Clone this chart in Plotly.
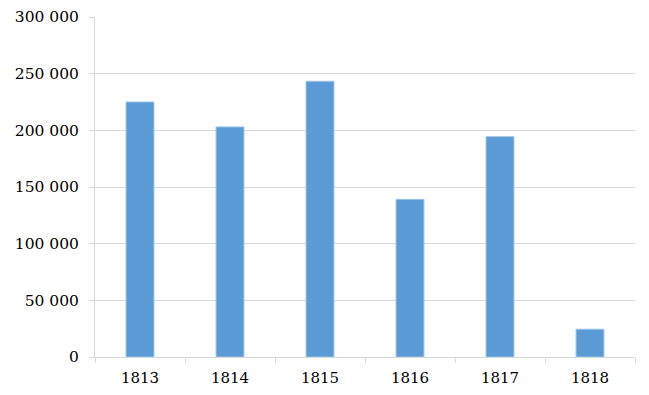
import plotly.graph_objects as go

years = ["1813", "1814", "1815", "1816", "1817", "1818"]
values = [225000, 203000, 243300, 139100, 194400, 24500]
y_ticks = [0, 50000, 100000, 150000, 200000, 250000, 300000]

fig = go.Figure()
fig.add_trace(go.Bar(
    x=years, y=values,
    marker=dict(color="#5b9bd5", line=dict(color="#9dc3e6", width=1)),
    hoverinfo="x+y",
))

grid = "#d9d9d9"
fig.update_layout(
    width=641, height=387,
    margin=dict(l=87, r=14, t=9, b=38),
    paper_bgcolor="white", plot_bgcolor="white",
    bargap=0.69,
    separators=", ",
    showlegend=False,
    font=dict(family="DejaVu Serif", size=15, color="#000000"),
    xaxis=dict(
        type="category", automargin=False,
        showline=True, linecolor=grid, linewidth=1,
        ticks="outside", tickson="boundaries", ticklen=5, tickcolor=grid,
        showgrid=False, tickfont=dict(size=15), ticklabelstandoff=7,
    ),
    yaxis=dict(
        range=[0, 300000], tickvals=y_ticks, tickformat=",d", automargin=False,
        showline=True, linecolor=grid, linewidth=1,
        ticks="outside", ticklen=5, tickcolor=grid,
        showgrid=True, gridcolor=grid, gridwidth=1,
        zeroline=False, tickfont=dict(size=15.5), ticklabelstandoff=7,
    ),
)

fig.write_html("out.html")
